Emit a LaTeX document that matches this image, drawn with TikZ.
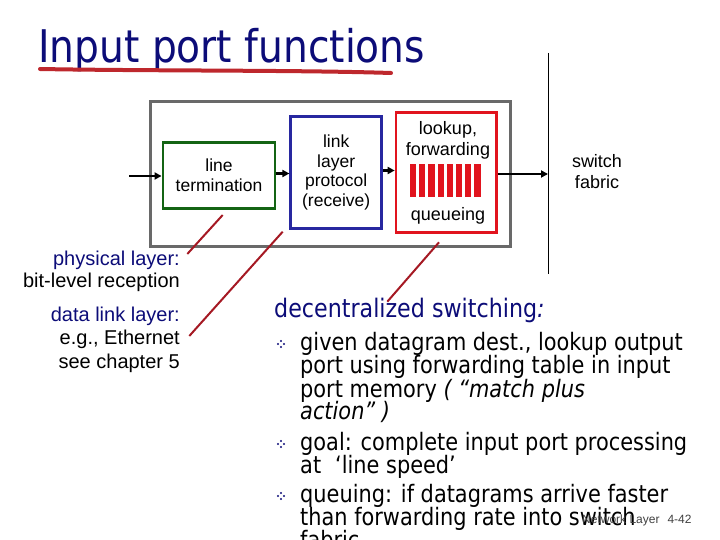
\documentclass[tikz,border=0pt]{standalone}
\usepackage{fontspec}
\setmainfont{Liberation Sans}
\newfontfamily\tah[FakeStretch=0.87]{DejaVu Sans}
\usetikzlibrary{arrows.meta}
\definecolor{navy}{RGB}{12,12,120}
\definecolor{gbox}{RGB}{20,100,20}
\definecolor{bbox}{RGB}{40,40,160}
\definecolor{rbox}{RGB}{225,20,30}
\definecolor{ptr}{RGB}{165,25,35}
\definecolor{greyb}{RGB}{105,105,105}
\definecolor{uline}{RGB}{190,40,45}
\tikzset{
  box/.style={draw, line width=2.6pt, inner sep=0pt, align=center, font=\fontsize{17.5}{20}\selectfont},
  arr/.style={line width=2.6pt, -{Triangle[length=7pt,width=7pt]}},
  ptrline/.style={draw=ptr, line width=2pt},
  lefttxt/.style={anchor=base east, inner sep=0pt, font=\fontsize{20}{24}\selectfont},
  body/.style={anchor=base west, inner sep=0pt, font=\tah\fontsize{24}{24}\selectfont},
  plain/.style={inner sep=0pt, align=center, font=\fontsize{18}{20}\selectfont},
}
\newcommand{\bul}[2]{%
  \foreach \dx/\dy in {-3/0,3/0,0/-3,0/3}
    \fill[navy] (#1+\dx,#2+\dy) circle (1.2pt);}
\begin{document}
\begin{tikzpicture}[x=1pt,y=-1pt]
\useasboundingbox (0,0) rectangle (720,540);
% title
\node[anchor=base west, inner sep=0pt, text=navy, font=\tah\fontsize{45}{45}\selectfont] (title) at (38,63) {Input port functions};
\draw[uline, line width=4pt, line cap=round] (40,69) .. controls (150,71) and (300,70) .. (391,73);
% outer grey box
\node[draw=greyb, line width=3pt, minimum width=360pt, minimum height=144.7pt, inner sep=0pt] (port) at (330.7,174.3) {};
% inner boxes
\node[box, draw=gbox, minimum width=112.3pt, minimum height=65.6pt] (green) at (219,175.5) {line\\termination};
\node[box, draw=bbox, minimum width=91pt, minimum height=111.6pt, font=\fontsize{17.5}{19.5}\selectfont] (blue) at (336.2,172.5) {link\\layer\\protocol\\(receive)};
\node[box, draw=rbox, minimum width=100.7pt, minimum height=120pt] (red) at (446.3,172.7) {};
\node[plain, anchor=base] (lookup) at (448,135) {lookup,};
\node[plain, anchor=base] (fwd) at (448,156) {forwarding};
\node[plain, anchor=base] (queue) at (448,221) {queueing};
\foreach \i in {0,...,7}
  \fill[rbox] (410+9.2*\i,164) rectangle ++(6.2,33.3);
% switch fabric
\coordinate (fabtop) at (548,53);
\coordinate (fabbot) at (548,274);
\draw[line width=1pt] (fabtop) -- (fabbot);
\node[plain, anchor=base] (sw) at (597,168) {switch};
\node[plain, anchor=base] (fb) at (597,189) {fabric};
% arrows
\coordinate (in) at (129,176);
\coordinate (fab) at (548,174);
\draw[arr] (in) -- (in -| green.west);
\draw[arr] (green.east) ++(0,-2) coordinate (ge) -- (ge -| blue.west);
\draw[arr] (blue.east) ++(0,-2) coordinate (be) -- (be -| red.west);
\draw[arr] (red.east) ++(0,1.3) coordinate (re) -- (fab);
% left labels
\node[lefttxt, text=navy] (phys) at (180,265) {physical layer:};
\node[lefttxt] (bitl) at (180,287) {bit-level reception};
\node[lefttxt, text=navy] (dll) at (180,321) {data link layer:};
\node[lefttxt] (eth) at (180,344) {e.g., Ethernet};
\node[lefttxt] (ch5) at (180,368) {see chapter 5};
% pointer lines
\coordinate (p1a) at (187.3,254);
\coordinate (p1b) at (222.7,215);
\coordinate (p2a) at (189.3,336);
\coordinate (p2b) at (282.7,231.7);
\coordinate (p3a) at (387.3,301.7);
\coordinate (p3b) at (439,242.3);
\draw[ptrline] (p1a) -- (p1b);
\draw[ptrline] (p2a) -- (p2b);
% right text
\node[body, text=navy, font=\tah\fontsize{25.5}{25.5}\selectfont] (dec) at (274,317) {decentralized switching\textit{:}};
\draw[ptrline] (p3a) -- (p3b);
\bul{281}{344}
\node[body] (l1) at (300,350) {given datagram dest., lookup output};
\node[body] (l2) at (300,373) {port using forwarding table in input};
\node[body] (l3) at (300,397) {port memory \textit{( “match plus}};
\node[body] (l4) at (300,419) {\textit{action” )}};
\bul{281}{444}
\node[body] (l5) at (300,450) {goal: complete input port processing};
\node[body] (l6) at (300,473) {at\hspace{14pt}‘line speed’};
\bul{281}{496}
\node[body] (l7) at (300,502) {queuing: if datagrams arrive faster};
\node[body] (l8) at (300,525) {than forwarding rate into switch};
\node[body] (l9) at (300,548) {fabric};
% footer
\node[anchor=base west, inner sep=0pt, font=\fontsize{12}{12}\selectfont, text=black!75] (foot) at (582,523) {Network Layer\hspace{8pt}4-42};
\end{tikzpicture}
\end{document}
